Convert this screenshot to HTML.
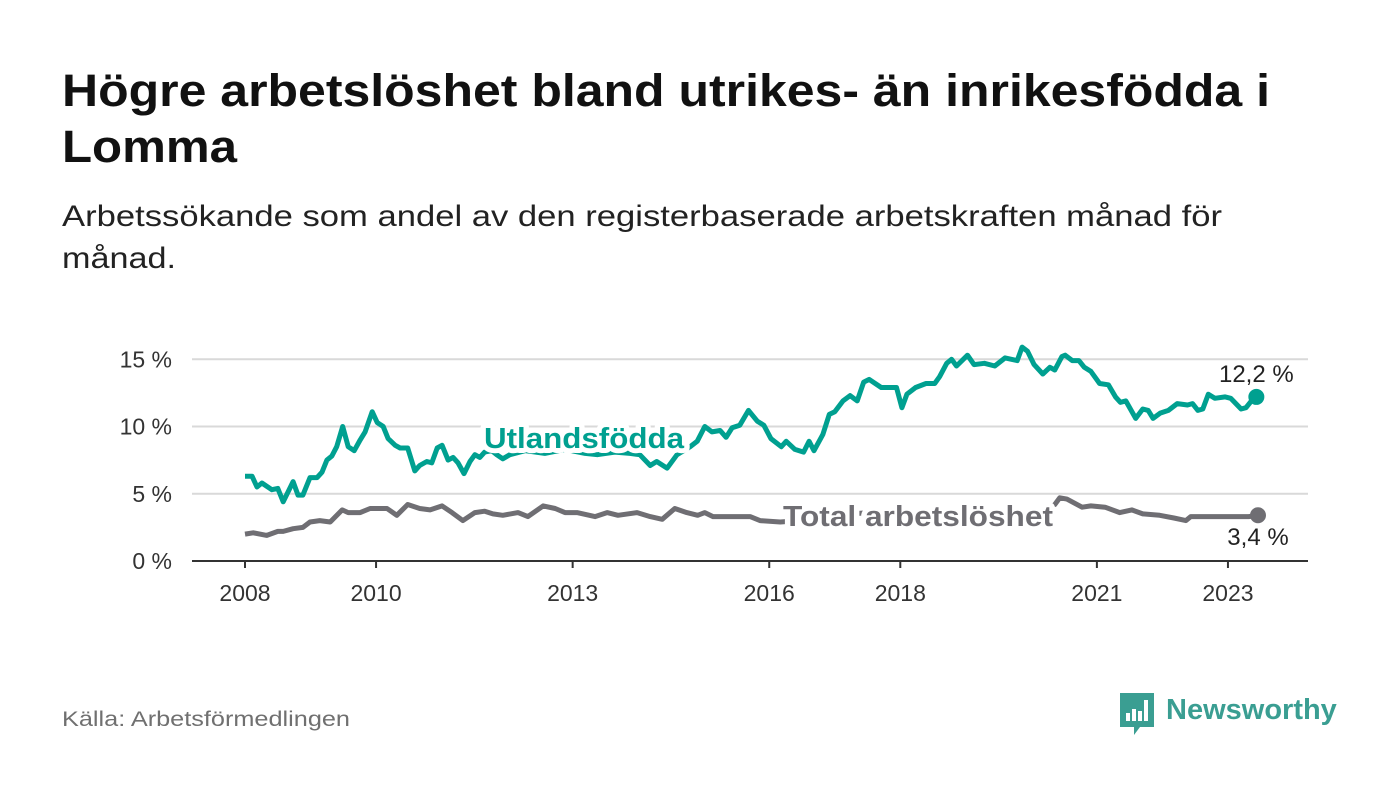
<!DOCTYPE html>
<html><head><meta charset="utf-8"><style>
body{margin:0;background:#fff;width:1400px;height:794px;overflow:hidden;font-family:"Liberation Sans","DejaVu Sans",sans-serif;}
</style></head><body>
<svg id="chart" width="1400" height="794" viewBox="0 0 1400 794" xmlns="http://www.w3.org/2000/svg">
<text font-family="Liberation Sans, sans-serif" font-weight="bold" font-size="45" fill="#111" x="62" y="106" textLength="1208" lengthAdjust="spacingAndGlyphs">Högre arbetslöshet bland utrikes- än inrikesfödda i</text>
<text font-family="Liberation Sans, sans-serif" font-weight="bold" font-size="45" fill="#111" x="62" y="162" textLength="175" lengthAdjust="spacingAndGlyphs">Lomma</text>
<text font-family="Liberation Sans, sans-serif" font-size="30" fill="#222" x="62" y="226" textLength="1160" lengthAdjust="spacingAndGlyphs">Arbetssökande som andel av den registerbaserade arbetskraften månad för</text>
<text font-family="Liberation Sans, sans-serif" font-size="30" fill="#222" x="62" y="268" textLength="114" lengthAdjust="spacingAndGlyphs">månad.</text>
<g id="grid"></g><g id="xaxis"></g><g id="lines"></g><g id="labels"></g>
<text font-family="Liberation Sans, sans-serif" font-size="21" fill="#707070" x="62" y="726" textLength="288" lengthAdjust="spacingAndGlyphs">Källa: Arbetsförmedlingen</text>
<g>
<path d="M1120 693 h34 v34 h-14 l-6 8 v-8 h-14 z" fill="#3a9e92"/>
<rect x="1126" y="713" width="4" height="8" fill="#fff"/><rect x="1132" y="709" width="4" height="12" fill="#fff"/><rect x="1138" y="711" width="4" height="10" fill="#fff"/><rect x="1144" y="700" width="4" height="21" fill="#fff"/>
<text font-family="Liberation Sans, sans-serif" font-weight="bold" font-size="29" fill="#3a9e92" x="1166" y="719">Newsworthy</text>
</g>
</svg>
<script>
const yTicks=[0,5,10,15];
const tickLabels=["0 %","5 %","10 %","15 %"];
const xYears=[2008,2010,2013,2016,2018,2021,2023];
const greenMonths=[0,1.3,2.2,3.1,4.9,6.0,7.0,8.8,9.7,10.6,11.9,13.2,14.1,15.0,15.9,16.8,17.9,18.9,20.0,21.1,22.0,23.3,24.2,25.3,26.2,27.5,28.4,29.8,31.1,32.0,33.3,34.2,35.2,36.1,37.2,38.1,39.0,40.1,41.2,42.1,43.0,43.9,45.2,46.1,47.2,48.5,51.3,54.9,58.6,62.3,64.5,67.7,70.5,72.3,74.2,75.4,77.3,79.1,81.5,82.8,84.2,85.5,87.0,88.1,89.2,90.6,92.2,93.8,95.0,96.3,98.2,99.1,100.7,102.3,103.3,104.2,105.8,107.0,108.0,109.5,110.8,112.1,113.3,114.3,116.5,118.4,119.3,120.3,121.2,122.8,124.7,126.3,127.2,128.5,129.4,130.3,132.3,133.5,135.4,137.3,139.2,141.4,142.3,143.3,144.5,146.1,147.4,148.3,149.6,150.2,151.5,152.7,153.7,154.9,156.5,158.1,159.4,160.3,161.3,163.1,164.4,165.4,166.3,167.6,169.1,170.7,172.6,173.5,174.5,175.4,176.4,177.6,179.5,180.5,182.4,183.3,184.3,185.2];
const greenValues=[6.3,6.3,5.5,5.8,5.3,5.4,4.4,5.9,4.9,4.9,6.2,6.2,6.6,7.5,7.8,8.5,10.0,8.5,8.2,9.0,9.6,11.1,10.3,10.0,9.1,8.6,8.4,8.4,6.7,7.1,7.4,7.3,8.4,8.6,7.5,7.7,7.3,6.5,7.4,7.9,7.7,8.1,8.2,7.9,7.6,7.9,8.2,8.0,8.3,8.0,7.9,8.1,8.0,7.9,7.1,7.4,6.9,7.9,8.5,8.9,10.0,9.6,9.7,9.2,9.9,10.1,11.2,10.4,10.1,9.1,8.5,8.9,8.3,8.1,8.9,8.2,9.4,10.9,11.1,11.9,12.3,11.9,13.3,13.5,12.9,12.9,12.9,11.4,12.4,12.9,13.2,13.2,13.7,14.7,15.0,14.5,15.3,14.6,14.7,14.5,15.1,14.9,15.9,15.6,14.6,13.9,14.4,14.2,15.2,15.3,14.9,14.9,14.4,14.1,13.2,13.1,12.2,11.8,11.9,10.6,11.3,11.2,10.6,11.0,11.2,11.7,11.6,11.7,11.2,11.3,12.4,12.1,12.2,12.1,11.3,11.4,11.9,12.2];
const grayMonths=[0,1.5,4.0,6.0,7.0,8.8,10.6,11.9,13.7,15.6,17.8,18.9,21.1,22.9,26.0,27.8,29.8,32.0,33.9,36.1,37.9,39.9,42.1,43.9,45.4,47.2,50.0,51.8,54.6,56.8,58.6,60.8,64.1,66.3,68.3,71.8,74.2,76.4,78.7,80.9,82.9,84.2,85.7,87.5,90.1,92.5,94.3,98.0,101.6,107.1,114.4,119.9,127.3,134.6,140.1,145.6,148.3,149.2,150.5,153.3,154.9,157.5,160.2,162.4,164.4,167.5,170.1,172.3,173.2,178.5,183.8,185.5];
const grayValues=[2.0,2.1,1.9,2.2,2.2,2.4,2.5,2.9,3.0,2.9,3.8,3.6,3.6,3.9,3.9,3.4,4.2,3.9,3.8,4.1,3.6,3.0,3.6,3.7,3.5,3.4,3.6,3.3,4.1,3.9,3.6,3.6,3.3,3.6,3.4,3.6,3.3,3.1,3.9,3.6,3.4,3.6,3.3,3.3,3.3,3.3,3.0,2.9,3.0,3.4,3.6,3.5,3.3,3.0,3.0,3.2,4.2,4.7,4.6,4.0,4.1,4.0,3.6,3.8,3.5,3.4,3.2,3.0,3.3,3.3,3.3,3.4];
const endLabels=["12,2 %","3,4 %"];

const NS="http://www.w3.org/2000/svg";
const X0=245,PXY=65.53,Y0=561,PXV=13.45;
const xs=m=>X0+m/12*PXY;
const xy=yr=>X0+(yr-2008)*PXY;
const ys=v=>Y0-v*PXV;
function mk(tag,attrs,parent){const e=document.createElementNS(NS,tag);for(const k in attrs)e.setAttribute(k,attrs[k]);parent.appendChild(e);return e;}
const grid=document.getElementById('grid'),xa=document.getElementById('xaxis'),ln=document.getElementById('lines'),lb=document.getElementById('labels');
yTicks.forEach((t,i)=>{
  if(t>0){const g=mk('line',{x1:192,x2:1308,y1:ys(t),y2:ys(t),stroke:'#d9d9d9','stroke-width':2},grid);
  
  }
  const tx=mk('text',{x:172,y:ys(t)+8,'text-anchor':'end','font-size':23,fill:'#333','font-family':'Liberation Sans, sans-serif'},grid);
  tx.textContent=tickLabels[i];
  
  
});
const ax=mk('line',{x1:192,x2:1308,y1:Y0,y2:Y0,stroke:'#333','stroke-width':2},xa);


xYears.forEach(yr=>{
  const tk=mk('line',{x1:xy(yr),x2:xy(yr),y1:Y0,y2:Y0+7,stroke:'#333','stroke-width':2},xa);
  
  
  const tx=mk('text',{x:xy(yr),y:601,'text-anchor':'middle','font-size':23,fill:'#333','font-family':'Liberation Sans, sans-serif'},xa);
  tx.textContent=yr;
  
  
});
function series(ms,vs,color,name){
  const d=ms.map((m,i)=>(i?'L':'M')+xs(m).toFixed(1)+' '+ys(vs[i]).toFixed(1)).join(' ');
  const p=mk('path',{d:d,fill:'none',stroke:color,'stroke-width':5,'stroke-linejoin':'round'},ln);
  
  
  const n=ms.length-1;
  const c=mk('circle',{cx:xs(ms[n]),cy:ys(vs[n]),r:8,fill:color},ln);
  
  
}
series(grayMonths,grayValues,'#6f6e73','total');
series(greenMonths,greenValues,'#00a090','utlandsfodda');
function label(txt,x,y,color,name,size,bold,halo,len){
  const t=mk('text',{x:x,y:y,fill:color,'font-size':size,'font-weight':bold?'bold':'normal','font-family':'Liberation Sans, sans-serif'},lb);
  if(halo){t.setAttribute('stroke','#fff');t.setAttribute('stroke-width',10);t.setAttribute('paint-order','stroke');t.setAttribute('stroke-linejoin','round');}
  if(len){t.setAttribute('textLength',len);t.setAttribute('lengthAdjust','spacingAndGlyphs');}
  t.textContent=txt;
  
  
  return t;
}
label('Utlandsfödda',484,448,'#00a090','series-label-utlandsfodda',29,true,true,200);
label('Total arbetslöshet',783,526,'#6f6e73','series-label-total',29,true,true,270);
const e1=label(endLabels[0],xs(greenMonths[greenMonths.length-1]),382,'#222','end-label-utlandsfodda',24,false,true);e1.setAttribute('text-anchor','middle');
const e2=label(endLabels[1],xs(grayMonths[grayMonths.length-1]),545,'#222','end-label-total',24,false,true);e2.setAttribute('text-anchor','middle');
</script>
</body></html>
